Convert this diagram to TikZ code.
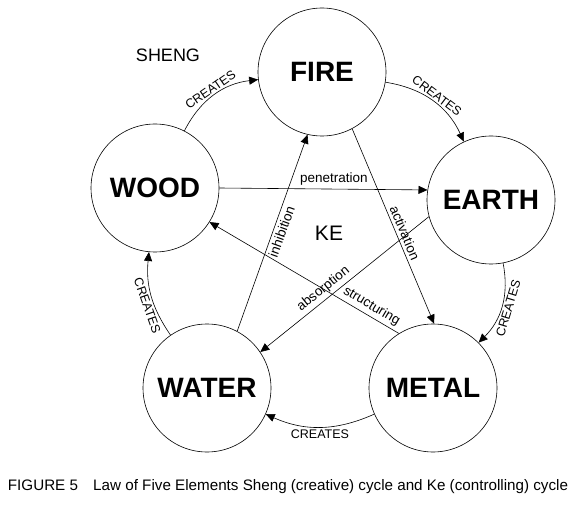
\documentclass[tikz,border=0pt]{standalone}
\usepackage{fontspec}
\setmainfont{Liberation Sans}
\usetikzlibrary{arrows.meta}

\begin{document}
\begin{tikzpicture}[x=1pt, y=1pt, >={Triangle[length=9pt,width=8pt]},
  element/.style={draw, circle, minimum size=128pt, inner sep=0pt, line width=0.6pt,
    font=\fontsize{28}{28}\selectfont\bfseries},
  sheng/.style={->, line width=0.6pt, bend left=28},
  ke/.style={->, line width=0.6pt},
  lbl/.style={font=\fontsize{13.5}{13.5}\selectfont, inner sep=3pt},
  creates/.style={font=\fontsize{12.5}{12.5}\selectfont, inner sep=2pt, midway, sloped}]
  \useasboundingbox (0,0) rectangle (576,507);
  % the five elements
  \node[element] (fire)  at (322,435) {FIRE};
  \node[element] (earth) at (491,307) {EARTH};
  \node[element] (metal) at (433,119) {METAL};
  \node[element] (water) at (207,119) {WATER};
  \node[element] (wood)  at (155,319) {WOOD};
  \node[font=\fontsize{18}{18}\selectfont] (sheng) at (168,452) {SHENG};
  \node[font=\fontsize{21}{21}\selectfont] (ke) at (329,274) {KE};
  % sheng cycle
  \draw[sheng] (wood)  to node[creates, above] {CREATES} (fire);
  \draw[sheng] (fire)  to node[creates, above] {CREATES} (earth);
  \draw[sheng] (earth) to node[creates, below] {CREATES} (metal);
  \draw[sheng, bend left=24] (metal) to node[creates, below] {CREATES} (water);
  \draw[sheng, bend left=20] (water) to node[creates, below, pos=0.4] {CREATES} (wood);
  % ke cycle
  \draw[ke] (wood.east) -- node[lbl, pos=0.55, above] {penetration} (earth.171);
  \draw[ke] (fire.-62) -- node[lbl, pos=0.55, above, sloped] {activation} (metal.89);
  \draw[ke] (earth.195) -- node[lbl, pos=0.59, above, sloped] {absorption} (water.34);
  \draw[ke] (metal.122) -- node[lbl, pos=0.17, above, sloped] {structuring} (wood.-32);
  \draw[ke] (water.62) -- node[lbl, pos=0.52, below, sloped] {inhibition} (fire.257);
  \node[font=\fontsize{15.2}{15.2}\selectfont] (caption) at (288,20)
    {FIGURE 5\quad Law of Five Elements Sheng (creative) cycle and Ke (controlling) cycle};
\end{tikzpicture}
\end{document}
